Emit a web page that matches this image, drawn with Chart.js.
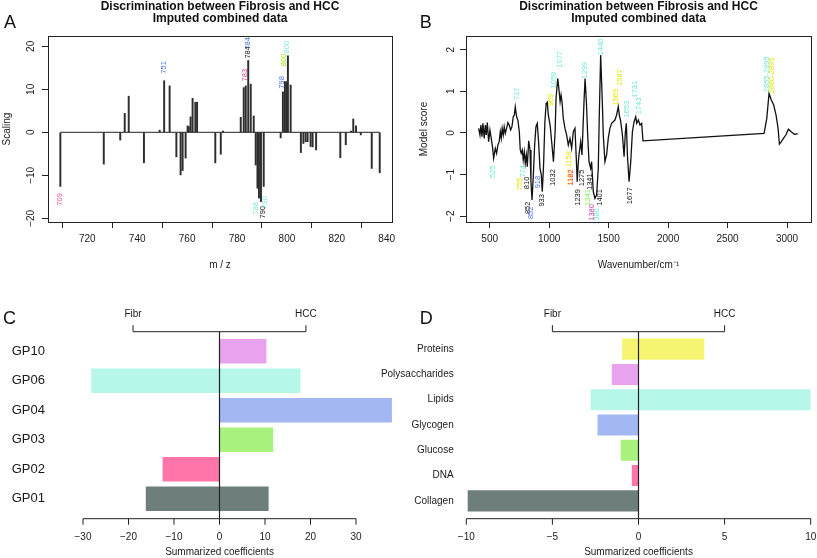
<!DOCTYPE html>
<html>
<head>
<meta charset="utf-8">
<script src="https://cdn.jsdelivr.net/npm/chart.js@4.4.1/dist/chart.umd.min.js"></script>
<style>
  html, body { margin: 0; padding: 0; background: #fff; }
  #wrap { position: relative; width: 817px; height: 558px; overflow: hidden; }
  canvas { position: absolute; }
</style>
</head>
<body>
<div id="wrap">
  <canvas id="cA" width="408" height="280" style="left:0;top:0"></canvas>
  <canvas id="cB" width="409" height="280" style="left:408px;top:0"></canvas>
  <canvas id="cC" width="408" height="278" style="left:0;top:280px"></canvas>
  <canvas id="cD" width="517" height="278" style="left:300px;top:280px"></canvas>
</div>
<script>
// ---- panel A: selected m/z variables and their scaling
const mzA = [709.2, 726.6, 733.2, 735.0, 736.6, 742.7, 749.0, 750.8, 753.0, 755.7, 757.4, 758.2, 759.4,
  760.2, 760.7, 761.4, 762.2, 763.3, 764.0, 771.3, 773.5, 774.4, 781.5, 782.7, 783.5, 784.5, 785.5, 786.7,
  787.5, 788.2, 788.8, 789.6, 790.7, 797.5, 798.4, 799.2, 799.9, 800.4, 801.5, 805.6, 806.6, 807.5, 808.3,
  809.5, 810.3, 811.7, 821.4, 823.6, 825.7, 826.6, 827.7, 829.6, 834.0, 837.2];
const scalingA = [-12.6, -7.4, -1.8, 4.4, 8.4, -7.1, 0.5, 12.0, 10.8, -5.7, -9.9, -8.9, -6.0,
  1.5, 1.3, 3.6, 7.9, 7.0, 7.0, -7.1, -5.1, 0.3, 3.5, 10.4, 10.8, 16.7, 11.2, 3.8,
  -7.6, -13.0, -15.3, -16.1, -12.6, -1.3, 9.4, 11.8, 11.8, 17.8, 11.0, -4.7, -2.6, -2.2, -2.2,
  -3.3, -3.4, -4.1, -5.9, -2.9, 0.3, 3.1, 1.5, -0.6, -8.4, -9.4];
const xTicksA = [720, 740, 760, 780, 800, 820, 840];
const yTicksA = [-20, -10, 0, 10, 20];
// peak labels: [m/z, scaling, text, colour]
const notesA = [
  [709.1, -15.6, '709', '#ff4d8f'],
  [750.9, 15.1, '751', '#4a6fe0'],
  [783.0, 13.3, '783', '#e03c9c'],
  [784.4, 18.6, '784', '#111111'],
  [784.5, 20.7, '784', '#4a6fe0'],
  [798.0, 11.6, '798', '#4a6fe0'],
  [798.9, 16.8, '800', '#9be600'],
  [800.2, 19.8, '800', '#7fe8d6'],
  [787.5, -17.7, '788', '#7fe8d6'],
  [790.2, -18.6, '790', '#111111'],
  [791.1, -16.3, '790', '#7fe8d6']
];

// ---- panel B: spectrum model score
const wnB = [407, 418, 426, 435, 443, 454, 463, 471, 480, 491, 502, 513, 525, 533, 547, 558, 569, 580, 589,
  597, 605, 614, 622, 631, 642, 653, 664, 676, 687, 698, 707, 715, 726, 737, 749, 757, 765, 774, 782, 791,
  799, 808, 816, 828, 839, 847, 856, 867, 878, 889, 900, 911, 923, 934, 942, 953, 964, 975, 984, 993, 1008,
  1021, 1036, 1050, 1058, 1072, 1083, 1092, 1100, 1108, 1119, 1133, 1147, 1161, 1175, 1189, 1203, 1217,
  1228, 1236, 1245, 1251, 1265, 1276, 1293, 1302, 1313, 1324, 1335, 1349, 1357, 1371, 1385, 1399, 1413,
  1421, 1433, 1447, 1455, 1469, 1483, 1497, 1511, 1525, 1539, 1553, 1567, 1581, 1590, 1602, 1616, 1630,
  1641, 1649, 1658, 1672, 1686, 1700, 1714, 1728, 1736, 1750, 1764, 1778, 1789, 2807, 2830, 2849, 2868,
  2888, 2908, 2925, 2936, 2950, 2970, 2990, 3012, 3035, 3063, 3090];
const scoreB = [0.11, -0.05, 0.19, -0.09, 0.23, -0.13, 0.19, -0.05, 0.25, -0.21, 0.07, -0.13, -0.37, -0.61,
  -0.37, -0.49, -0.29, -0.21, 0.03, -0.13, 0.11, -0.05, 0.15, -0.01, 0.11, 0.25, 0.19, 0.07, 0.15, 0.39,
  0.43, 0.63, 0.39, 0.31, 0.03, -0.41, -0.49, -0.41, -0.65, -0.45, -0.73, -0.53, -0.81, -0.19, -0.41, -1.17,
  -1.61, -1.01, -0.29, 0.15, 0.23, -0.21, -0.85, -1.01, -1.41, -0.77, 0.27, 0.71, 0.74, 0.43, 0.19, -0.21,
  -0.69, 0.03, 0.83, 1.31, 1.03, 0.75, 0.91, 0.75, 0.35, 0.11, -0.05, -0.29, -0.13, -0.37, 0.03, 0.11,
  -0.6, -1.17, -0.7, -0.53, -0.21, -0.53, 0.75, 1.31, 0.75, -0.05, -0.69, -0.85, -0.69, -1.41, -1.57, -1.49,
  -0.85, 0.35, 1.87, 0.75, -0.05, -0.69, -0.53, -0.13, 0.11, 0.23, 0.27, 0.31, 0.43, 0.63, 0.43, 0.27,
  -0.05, -0.57, 0.03, 0.23, -0.53, -1.17, -0.69, 0.03, 0.27, 0.39, 0.23, 0.31, 0.19, 0.23, -0.19, -0.01,
  0.35, 0.95, 0.79, 0.67, 0.43, 0.11, -0.27, -0.22, -0.13, -0.05, 0.09, 0.03, -0.03, -0.02];
const xTicksB = [500, 1000, 1500, 2000, 2500, 3000];
const yTicksB = [-2, -1, 0, 1, 2];
const cyan = '#6fe8d2', yellow = '#e6e600', blue = '#4a6fe0', black = '#111111',
  red = '#ff3366', green = '#7cf04a', magenta = '#d030b0';
const notesB = [
  [730, 0.94, '717', cyan], [1018, 0.79, '969', yellow], [1038, 1.27, '1059', cyan],
  [1087, 1.77, '1077', cyan], [1303, 1.51, '1299', cyan], [1436, 2.07, '1440', cyan],
  [1558, 0.86, '1569', yellow], [1597, 1.33, '1587', yellow], [1651, 0.57, '1653', cyan],
  [1722, 1.05, '1731', cyan], [1756, 0.65, '1743', cyan], [2831, 1.41, '2855-2895', cyan],
  [2873, 1.38, '2860-2895', yellow],
  [530, -0.93, '525', cyan], [780, -0.92, '774', cyan], [751, -1.23, '755', yellow],
  [815, -1.20, '810', black], [908, -1.18, '918', blue], [941, -1.62, '933', black],
  [824, -1.80, '852', black], [848, -1.92, '852', blue], [1032, -1.07, '1032', black],
  [1165, -0.63, '1158', yellow], [1178, -1.07, '1182', yellow], [1181, -1.07, '1182', red],
  [1272, -1.08, '1275', black], [1244, -1.55, '1239', black], [1341, -1.17, '1341', black],
  [1329, -1.55, '1341', green], [1360, -1.91, '1380', magenta], [1402, -2.01, '1380', cyan],
  [1426, -1.55, '1401', black], [1678, -1.51, '1677', black]
];

// ---- panel C: summarized coefficients per group
const groupsC = ['GP10', 'GP06', 'GP04', 'GP03', 'GP02', 'GP01'];
const negC = [0, -28.2, 0, 0, -12.5, -16.2];
const posC = [10.3, 17.8, 37.9, 11.8, 0, 10.8];
const coloursC = ['#e8a2ee', '#b6f7ea', '#a3b8f3', '#a9f27e', '#ff74a9', '#6e7f7b'];
const xTicksC = [-30, -20, -10, 0, 10, 20, 30];

// ---- panel D: summarized coefficients per compound class
const classesD = ['Proteins', 'Polysaccharides', 'Lipids', 'Glycogen', 'Glucose', 'DNA', 'Collagen'];
const negD = [-0.95, -1.55, -2.77, -2.38, -1.03, -0.39, -9.92];
const posD = [3.82, 0, 10, 0, 0, 0, 0];
const coloursD = ['#f5f571', '#e8a2ee', '#b6f7ea', '#a3b8f3', '#a9f27e', '#ff74a9', '#6e7f7b'];
const xTicksD = [-10, -5, 0, 5, 10];

const FONT = '"Liberation Sans", Arial, Helvetica, sans-serif';
Chart.defaults.font.family = FONT;
Chart.defaults.color = '#1a1a1a';

const fmt = v => (v < 0 ? '\u2212' + Math.abs(v) : String(v));
const setTicks = arr => s => { s.ticks = arr.map(v => ({value: v})); };

// titles, panel letter, box and rotated peak labels
const decor = {
  id: 'decor',
  afterDatasetsDraw(chart, args, o) {
    const ctx = chart.ctx;
    if (!o.notes) return;
    const xs = chart.scales.x, ys = chart.scales.y;
    ctx.save();
    ctx.font = '7.5px ' + FONT;
    ctx.textAlign = 'center';
    ctx.textBaseline = 'middle';
    o.notes.forEach(([x, y, t, c]) => {
      ctx.save();
      ctx.translate(xs.getPixelForValue(x), ys.getPixelForValue(y));
      ctx.rotate(-Math.PI / 2);
      ctx.fillStyle = c;
      ctx.fillText(t, 0, 0);
      ctx.restore();
    });
    ctx.restore();
  },
  afterDraw(chart, args, o) {
    const ctx = chart.ctx, a = chart.chartArea;
    ctx.save();
    ctx.fillStyle = '#111';
    if (o.letter) {
      ctx.font = '18px ' + FONT;
      ctx.textAlign = 'left';
      ctx.textBaseline = 'alphabetic';
      ctx.fillText(o.letter, o.letterX, o.letterY);
    }
    if (o.title) {
      ctx.font = 'bold 12px ' + FONT;
      ctx.textAlign = 'center';
      ctx.textBaseline = 'alphabetic';
      o.title.forEach((t, i) => ctx.fillText(t, (a.left + a.right) / 2, 10 + i * 11.7));
    }
    if (o.box) {
      ctx.strokeStyle = '#222';
      ctx.lineWidth = 1;
      ctx.strokeRect(a.left + 0.5, a.top + 0.5, a.right - a.left, a.bottom - a.top);
    }
    ctx.restore();
  }
};

// floating R-style axis under the bars, the Fibr/HCC bracket and the zero line
const floatAxis = {
  id: 'floatAxis',
  afterDatasetsDraw(chart, args, o) {
    if (!o.ticks) return;
    const ctx = chart.ctx, a = chart.chartArea, xs = chart.scales.x;
    const yAxis = a.bottom + 5.2, yBr = a.top - 4.8;
    const x0 = xs.getPixelForValue(0);
    ctx.save();
    ctx.strokeStyle = '#222';
    ctx.lineWidth = 1.2;
    ctx.beginPath();
    ctx.moveTo(x0, yBr);
    ctx.lineTo(x0, yAxis);
    ctx.stroke();
    ctx.lineWidth = 1;
    // bottom axis
    const px = o.ticks.map(v => xs.getPixelForValue(v));
    ctx.beginPath();
    ctx.moveTo(px[0], yAxis);
    ctx.lineTo(px[px.length - 1], yAxis);
    px.forEach(p => { ctx.moveTo(p, yAxis); ctx.lineTo(p, yAxis + 6); });
    // bracket
    const b0 = xs.getPixelForValue(o.bracket[0]), b1 = xs.getPixelForValue(o.bracket[1]);
    ctx.moveTo(b0, yBr - 6.5); ctx.lineTo(b0, yBr); ctx.lineTo(b1, yBr); ctx.lineTo(b1, yBr - 6.5);
    ctx.stroke();
    ctx.fillStyle = '#1a1a1a';
    ctx.font = '10px ' + FONT;
    ctx.textAlign = 'center';
    ctx.textBaseline = 'middle';
    o.ticks.forEach((v, i) => ctx.fillText(fmt(v), px[i], a.bottom + 23.5));
    ctx.fillText(o.title, (px[0] + px[px.length - 1]) / 2, a.bottom + 38.5);
    ctx.fillText(o.sides[0], b0, yBr - 17.7);
    ctx.fillText(o.sides[1], b1, yBr - 17.7);
    ctx.restore();
  }
};

const titleLines = ['Discrimination between Fibrosis and HCC', 'Imputed combined data'];

function rAxisX(min, max, ticks, title) {
  return {
    type: 'linear', min, max, offset: false,
    afterBuildTicks: setTicks(ticks),
    afterFit: s => { s.height = 58; },
    grid: {drawOnChartArea: false, tickLength: 6, color: '#222'},
    border: {display: false},
    ticks: {font: {size: 10}, padding: 5, maxRotation: 0, callback: v => fmt(v)},
    title: {display: true, text: title, font: {size: 10}, padding: {top: 0, bottom: 9}}
  };
}
function rAxisY(min, max, ticks, title, width, titlePad) {
  return {
    type: 'linear', min, max,
    afterBuildTicks: setTicks(ticks),
    afterFit: s => { s.width = width; },
    grid: {drawOnChartArea: false, tickLength: 6, color: '#222'},
    border: {display: false},
    ticks: {font: {size: 10}, padding: 2.6, minRotation: 90, maxRotation: 90, crossAlign: 'center', callback: v => fmt(v)},
    title: {display: true, text: title, font: {size: 10}, padding: {top: titlePad, bottom: 0}}
  };
}
const common = {
  responsive: false, animation: false, devicePixelRatio: 1, events: []
};

// A: stick plot
new Chart(document.getElementById('cA'), {
  type: 'bar',
  data: {
    datasets: [
      {type: 'line', data: [{x: mzA[0], y: 0}, {x: mzA[mzA.length - 1], y: 0}],
        borderColor: '#222', borderWidth: 1, pointRadius: 0},
      {data: mzA.map((m, i) => ({x: m, y: scalingA[i]})), backgroundColor: '#2e2e2e',
        barThickness: 1.3, grouped: false}
    ]
  },
  options: Object.assign({}, common, {
    layout: {padding: {left: 0, top: 36, right: 16, bottom: 0}},
    plugins: {legend: {display: false}, tooltip: {enabled: false},
      decor: {letter: 'A', letterX: 4, letterY: 28, title: titleLines, box: true, notes: notesA}},
    scales: {
      x: rAxisX(704.25, 842.12, xTicksA, 'm / z'),
      y: rAxisY(-20.86, 22.4, yTicksA, 'Scaling', 48, 1.5)
    }
  }),
  plugins: [decor]
});

// B: spectrum
new Chart(document.getElementById('cB'), {
  type: 'line',
  data: {
    datasets: [{data: wnB.map((w, i) => ({x: w, y: scoreB[i]})), borderColor: '#111',
      borderWidth: 1.3, pointRadius: 0, tension: 0}]
  },
  options: Object.assign({}, common, {
    layout: {padding: {left: 0, top: 36, right: 6, bottom: 0}},
    plugins: {legend: {display: false}, tooltip: {enabled: false},
      decor: {letter: 'B', letterX: 11.7, letterY: 28, title: titleLines, box: true, notes: notesB}},
    scales: {
      x: rAxisX(300.7, 3201.8, xTicksB, 'Wavenumber/cm\u207B\u00B9'),
      y: rAxisY(-2.14, 2.33, yTicksB, 'Model score', 58, 10.7)
    }
  }),
  plugins: [decor]
});

function summaryChart(id, cats, neg, pos, colours, xmin, xmax, ticks, bracket, yWidth, tickPad, fontSize, rightPad, letter, letterX) {
  return new Chart(document.getElementById(id), {
    type: 'bar',
    data: {
      labels: cats,
      datasets: [{data: cats.map((c, i) => [neg[i], pos[i]]), backgroundColor: colours,
        barPercentage: 0.833, categoryPercentage: 1, borderSkipped: false}]
    },
    options: Object.assign({}, common, {
      indexAxis: 'y',
      layout: {padding: {left: 0, top: 56.5, right: rightPad, bottom: 44.5}},
      plugins: {legend: {display: false}, tooltip: {enabled: false},
        decor: {letter, letterX, letterY: 44},
        floatAxis: {ticks, bracket, sides: ['Fibr', 'HCC'], title: 'Summarized coefficients'}},
      scales: {
        x: {type: 'linear', display: false, min: xmin, max: xmax},
        y: {afterFit: s => { s.width = yWidth; }, grid: {display: false}, border: {display: false},
          ticks: {font: {size: fontSize}, color: '#1a1a1a', padding: tickPad}}
      }
    }),
    plugins: [decor, floatAxis]
  });
}

summaryChart('cC', groupsC, negC, posC, coloursC, -30, 38, xTicksC, [-19, 19], 83, 30, 13, 15.6, 'C', 3);
summaryChart('cD', classesD, negD, posD, coloursD, -10, 10, xTicksD, [-5, 5], 166.3, 4.6, 10, 6.3, 'D', 119.7);
</script>
</body>
</html>
